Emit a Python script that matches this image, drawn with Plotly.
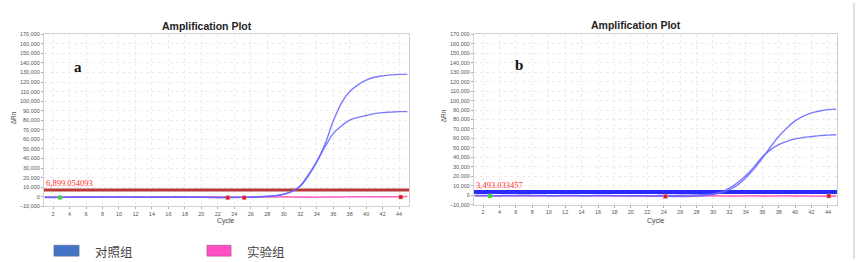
import plotly.graph_objects as go

W, H = 860, 262

cycles = list(range(1, 46))

# Panel a (left) — control (blue) and experiment (pink) curves
a_ctrl_1 = [-800, -900, -800, -700, -600, -500, -400, -300, -300, -400,
            -500, -600, -700, -700, -600, -500, -400, -500, -600, -700,
            -800, -900, -900, -800, -700, -500, -200, 300, 1000, 2500,
            5500, 11000, 22000, 36000, 55000, 79000, 98000, 110000, 117000, 122000,
            125000, 126500, 127500, 128000, 128000]
a_ctrl_2 = [-600, -700, -700, -600, -500, -400, -400, -300, -200, -300,
            -400, -500, -600, -600, -500, -400, -300, -400, -500, -600,
            -700, -800, -800, -700, -600, -400, -100, 400, 1100, 2600,
            5600, 11500, 23000, 37000, 52000, 66000, 74000, 80000, 83000, 85000,
            87000, 88000, 88500, 89000, 89000]
a_exp_1 = [-300, -200, -100, 0, 100, 0, -200, -300, -200, 0,
           100, 200, 100, 0, -100, -200, -300, -200, -100, 0,
           100, 0, -200, -400, -500, -400, -300, -200, -100, 0,
           -100, -200, -300, -400, -300, -200, -100, 0, 100, 200,
           100, 0, 100, 200, 300]
a_exp_2 = [-500, -400, -300, -200, -100, -200, -300, -400, -300, -200,
           -100, 0, -100, -200, -300, -400, -500, -400, -300, -200,
           -300, -400, -600, -800, -900, -800, -600, -500, -400, -500,
           -600, -700, -800, -700, -600, -500, -400, -300, -200, -100,
           -200, -300, -200, -100, 0]

# Panel b (right)
b_ctrl_1 = [-300, -300, -400, -400, -300, -300, -200, -300, -300, -400,
            -400, -300, -300, -400, -400, -300, -300, -400, -400, -500,
            -500, -600, -700, -800, -1200, -1300, -1200, -800, -200, 800,
            2500, 6000, 11000, 18500, 28000, 39000, 51000, 62000, 71000, 78500,
            83500, 87000, 89000, 90500, 91000]
b_ctrl_2 = [-200, -200, -300, -300, -200, -200, -100, -200, -200, -300,
            -300, -200, -200, -300, -300, -200, -200, -300, -300, -300,
            -300, -300, -300, -200, -100, 0, 200, 500, 900, 1500,
            3500, 7500, 13500, 21000, 30000, 40500, 48000, 53500, 57000, 59500,
            61000, 62000, 63000, 63500, 64000]
b_exp_1 = [-400, -400, -500, -500, -400, -400, -300, -400, -400, -500,
           -500, -400, -400, -500, -500, -400, -400, -500, -500, -600,
           -600, -700, -800, -900, -900, -800, -700, -600, -500, -500,
           -500, -600, -600, -500, -500, -600, -600, -500, -500, -600,
           -700, -800, -900, -800, -700]
b_exp_2 = [-600, -600, -700, -700, -600, -600, -500, -600, -600, -700,
           -700, -600, -600, -700, -700, -600, -600, -700, -700, -800,
           -800, -900, -1000, -1100, -1100, -1000, -900, -800, -700, -700,
           -700, -800, -800, -700, -700, -800, -800, -700, -700, -800,
           -900, -1000, -1100, -1000, -900]

thresholds = [6899.054093, 3493.033457]
threshold_labels = ["6,899.054093", "3,493.033457"]

a_marker_cycles = [2.85, 23.2, 25.2, 44.2]
a_marker_values = [-800, -1000, -1000, -400]
a_marker_colors = ["#22dd22", "#ee1111", "#ee1111", "#ee1111"]
b_marker_cycles = [2.85, 24.2, 44.1]
b_marker_values = [-700, -1200, -700]
b_marker_colors = ["#22dd22", "#ee1111", "#ee1111"]

panel_labels = ["a", "b"]
chart_title = "Amplification Plot"
legend_labels = ["对照组", "实验组"]
legend_colors = ["#4472c4", "#ff4fc3"]

y_ticks = list(range(-10000, 170001, 10000))
x_ticks = list(range(2, 45, 2))


def px(x):
    return x / W


def py(y):
    return 1 - y / H


fig = go.Figure()

ctrl_color = "rgba(100,100,255,0.85)"
exp_color = "rgba(255,100,190,0.9)"

panels = [
    ("x", "y", [a_ctrl_1, a_ctrl_2], [a_exp_1, a_exp_2], a_marker_cycles, a_marker_values, a_marker_colors),
    ("x2", "y2", [b_ctrl_1, b_ctrl_2], [b_exp_1, b_exp_2], b_marker_cycles, b_marker_values, b_marker_colors),
]

for i, (xa, ya, ctrls, exps, mc, mv, mcol) in enumerate(panels):
    # threshold line
    fig.add_trace(go.Scatter(
        x=[0.5, 45.5], y=[thresholds[i]] * 2, mode="lines", xaxis=xa, yaxis=ya,
        line=dict(color="#b83838" if i == 0 else "#2a2aff", width=3 if i == 0 else 4),
        showlegend=False, hoverinfo="skip"))
    for e in exps:
        fig.add_trace(go.Scatter(x=cycles, y=e, mode="lines", xaxis=xa, yaxis=ya,
                                 line=dict(color=exp_color, width=1.2, shape="spline"),
                                 showlegend=False))
    for c in ctrls:
        fig.add_trace(go.Scatter(x=cycles, y=c, mode="lines", xaxis=xa, yaxis=ya,
                                 line=dict(color=ctrl_color, width=1.4, shape="spline"),
                                 showlegend=False))
    fig.add_trace(go.Scatter(x=mc, y=mv, mode="markers", xaxis=xa, yaxis=ya,
                             marker=dict(symbol="square", size=4, color=mcol,
                                         line=dict(color="#bbbbbb", width=0.5)),
                             showlegend=False))

axis_common = dict(showgrid=True, gridcolor="#ececec", griddash="dot", gridwidth=1,
                   showline=True, linecolor="#cfcfcf", linewidth=1, mirror=True,
                   zeroline=False, ticks="outside", ticklen=2, tickcolor="#aaaaaa",
                   tickfont=dict(family="Liberation Sans", size=5.5, color="#555555"))

fig.update_layout(
    width=W, height=H, margin=dict(l=0, r=0, t=0, b=0),
    paper_bgcolor="white", plot_bgcolor="white", showlegend=False,
    xaxis=dict(domain=[px(44), px(409)], range=[0.9, 45.2], anchor="y",
               tickvals=x_ticks, **axis_common),
    yaxis=dict(domain=[py(208), py(32)], range=[-10000, 170000], anchor="x",
               tickvals=y_ticks, tickformat=",", **axis_common),
    xaxis2=dict(domain=[px(474), px(837)], range=[0.9, 45.1], anchor="y2",
                tickvals=x_ticks, **axis_common),
    yaxis2=dict(domain=[py(206.5), py(32)], range=[-10000, 170000], anchor="x2",
                tickvals=y_ticks, tickformat=",", **axis_common),
)

ann = []
shapes = []
# titles
for cx, cy in [(207, 24), (636, 23)]:
    ann.append(dict(x=px(cx), y=py(cy), xref="paper", yref="paper", showarrow=False,
                    text="<b>" + chart_title + "</b>", xanchor="center", yanchor="middle",
                    font=dict(family="Liberation Sans", size=10.5, color="#222222")))
# panel labels
for lbl, cx, cy in [(panel_labels[0], 78, 65), (panel_labels[1], 519, 63)]:
    ann.append(dict(x=px(cx), y=py(cy), xref="paper", yref="paper", showarrow=False,
                    text="<b>" + lbl + "</b>", xanchor="center", yanchor="middle",
                    font=dict(family="Liberation Serif", size=15, color="#111111")))
# threshold labels
for i, (xa, ya) in enumerate([("x", "y"), ("x2", "y2")]):
    ann.append(dict(x=0.95, y=thresholds[i], xref=xa, yref=ya, showarrow=False,
                    text=threshold_labels[i], xanchor="left", yanchor="bottom", yshift=0,
                    font=dict(family="Liberation Serif", size=8.5, color="#ff2a2a")))
# axis titles
for cx in [226, 656]:
    ann.append(dict(x=px(cx), y=py(223.5), xref="paper", yref="paper", showarrow=False,
                    text="Cycle", xanchor="center", yanchor="middle",
                    font=dict(family="Liberation Sans", size=7, color="#444444")))
for cx, cy in [(13, 118), (443, 116)]:
    ann.append(dict(x=px(cx), y=py(cy), xref="paper", yref="paper", showarrow=False,
                    text="ΔRn", textangle=-90, xanchor="center", yanchor="middle",
                    font=dict(family="Liberation Sans", size=6.5, color="#555555")))
# legend
for (x0, x1, tx), lbl, col in zip([(54, 79, 93), (207, 231, 245)], legend_labels, legend_colors):
    shapes.append(dict(type="rect", xref="paper", yref="paper", x0=px(x0), x1=px(x1),
                       y0=py(259), y1=py(248), fillcolor=col,
                       line=dict(color="#5b6b9b" if col == legend_colors[0] else "#c0509a", width=0.8)))
    ann.append(dict(x=px(tx), y=py(254), xref="paper", yref="paper", showarrow=False,
                    text=lbl, xanchor="left", yanchor="middle",
                    font=dict(family="Noto Sans CJK SC", size=12.5, color="#444444")))
# right border
shapes.append(dict(type="line", xref="paper", yref="paper", x0=px(854), x1=px(854),
                   y0=0, y1=1, line=dict(color="#e0e0e0", width=2)))

fig.update_layout(annotations=ann, shapes=shapes)
fig.write_html("out.html")
